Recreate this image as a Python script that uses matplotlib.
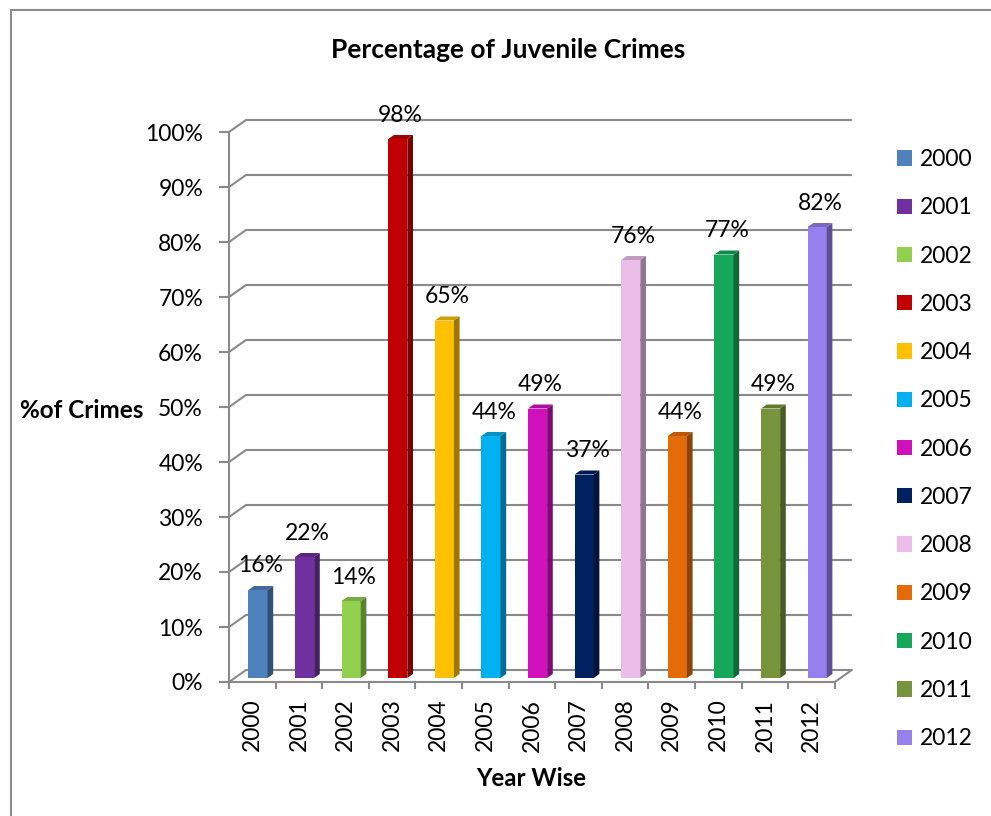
import matplotlib
matplotlib.use("Agg")
import matplotlib.pyplot as plt
import numpy as np
from matplotlib.patches import Polygon, Patch, Rectangle
from matplotlib.colors import to_rgb

# ---- data ----
years = ["2000", "2001", "2002", "2003", "2004", "2005", "2006",
         "2007", "2008", "2009", "2010", "2011", "2012"]
percent = [16, 22, 14, 98, 65, 44, 49, 37, 76, 44, 77, 49, 82]
bar_colors = ["#4F81BD", "#7030A0", "#92D050", "#C00000", "#FFC000",
              "#00B0F0", "#D00FBD", "#002060", "#EBBDE9", "#E36C09",
              "#16A85A", "#77933C", "#9580EE"]
ytick_vals = list(range(0, 101, 10))
ytick_labels = [f"{v}%" for v in ytick_vals]

title = "Percentage of Juvenile Crimes"
xlabel = "Year Wise"
ylabel = "%of Crimes"

plt.rcParams["font.family"] = ["Lato", "DejaVu Sans"]
FS = 16.5
GRID = "#8A8A8A"

W, H = 991, 816
fig = plt.figure(figsize=(W / 100, H / 100), dpi=100)
fig.patch.set_facecolor("white")

# pixel scales of the plotting area
ppc = 46.6   # px per category
ppp = 5.5    # px per percent
x0_px, y0_px = 229, 682
xmax, ymax = 13.0, 103.0
ax = fig.add_axes([x0_px / W, 1 - y0_px / H,
                   (xmax + 0.5) * ppc / W, ymax * ppp / H])
ax.set_xlim(-0.5, xmax)
ax.set_ylim(0, ymax)
ax.patch.set_alpha(0)

# depth of the pseudo-3D floor/wall, in data units
dxu = 17 / ppc
dyu = 12 / ppp
n = len(years)
xl, xr = -0.5, n - 0.5

# back-wall gridlines and the left-side connectors
for v in ytick_vals:
    ax.plot([xl, xl + dxu, xr + dxu], [v, v + dyu, v + dyu],
            color=GRID, lw=1.5, clip_on=False, zorder=1,
            solid_capstyle="butt")
# right edge of the floor
ax.plot([xr, xr + dxu], [0, dyu], color=GRID, lw=1.5, clip_on=False, zorder=1)

# spines
for s in ("top", "right"):
    ax.spines[s].set_visible(False)
ax.spines["left"].set_bounds(0, 100)
ax.spines["bottom"].set_bounds(xl, xr)
for s in ("left", "bottom"):
    ax.spines[s].set_color(GRID)
    ax.spines[s].set_linewidth(1.5)

# ticks
ax.set_yticks(ytick_vals)
ax.set_yticklabels(ytick_labels, fontsize=FS)
ax.tick_params(axis="y", length=7.2, width=1.5, color=GRID, pad=11.5)
ax.set_xticks(np.arange(xl, xr + 0.01, 1))
ax.set_xticklabels([])
ax.tick_params(axis="x", which="major", length=5, width=1.5, color=GRID)
ax.set_xticks(np.arange(n), minor=True)
ax.set_xticklabels(years, minor=True, rotation=90, fontsize=FS)
ax.tick_params(axis="x", which="minor", length=0, pad=12)

# bars: front face sits one third into the depth
fdx, fdy = dxu / 3, dyu / 3
bw = 0.41
xc = np.arange(n) + fdx
ax.bar(xc, percent, width=bw, bottom=fdy, color=bar_colors,
       zorder=3, linewidth=0)


def shade(c, k):
    r, g, b = to_rgb(c)
    return (r * k, g * k, b * k)


for x, v, c in zip(xc, percent, bar_colors):
    left, right = x - bw / 2, x + bw / 2
    top = v + fdy
    # top face
    ax.add_patch(Polygon([(left, top), (right, top),
                          (right + fdx, top + fdy), (left + fdx, top + fdy)],
                         closed=True, facecolor=shade(c, 0.82),
                         edgecolor="none", zorder=3))
    # side face
    ax.add_patch(Polygon([(right, fdy), (right + fdx, 2 * fdy),
                          (right + fdx, top + fdy), (right, top)],
                         closed=True, facecolor=shade(c, 0.62),
                         edgecolor="none", zorder=3))
    ax.text(x + fdx / 2, top + 24 / ppp, f"{v}%", ha="center", va="center",
            fontsize=FS, zorder=4)

# titles
fig.text(508 / W, 1 - 50 / H, title, ha="center", va="center",
         fontsize=19, fontweight="bold")
fig.text(531 / W, 1 - 778 / H, xlabel, ha="center", va="center",
         fontsize=17.3, fontweight="bold")
fig.text(20 / W, 1 - 411 / H, ylabel, ha="left", va="center",
         fontsize=17.5, fontweight="bold")

# legend
handles = [Patch(facecolor=c, edgecolor="none") for c in bar_colors]
fig.legend(handles, years, loc="upper left",
           bbox_to_anchor=(897 / W, 1 - 149 / H),
           bbox_transform=fig.transFigure, frameon=False, fontsize=FS,
           handlelength=0.65, handleheight=0.65, handletextpad=0.35,
           labelspacing=1.19, borderpad=0, borderaxespad=0)

# outer chart border
fig.add_artist(Rectangle((11 / W, -20 / H), 1.2, (H - 10 + 20) / H,
                         transform=fig.transFigure, fill=False,
                         edgecolor="#8C8C8C", lw=1.5))

fig.savefig("out.png", dpi=100)
